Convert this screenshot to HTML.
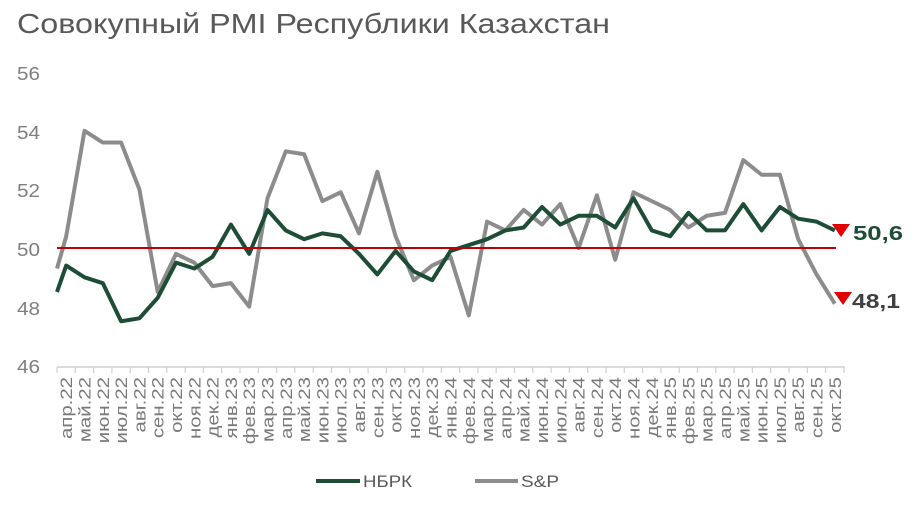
<!DOCTYPE html>
<html><head><meta charset="utf-8"><style>
body{margin:0;background:#fff;}
svg{display:block;font-family:"Liberation Sans","DejaVu Sans",sans-serif;}
</style></head><body>
<svg id="c" width="919" height="512" viewBox="0 0 919 512">
<text x="17" y="33" font-size="28" fill="#595959" textLength="593" lengthAdjust="spacingAndGlyphs">Совокупный PMI Республики Казахстан</text>
<g font-size="18" fill="#7f7f7f" text-anchor="start">
<text x="17" y="80" textLength="23" lengthAdjust="spacingAndGlyphs">56</text><text x="17" y="139" textLength="23" lengthAdjust="spacingAndGlyphs">54</text><text x="17" y="197" textLength="23" lengthAdjust="spacingAndGlyphs">52</text>
<text x="17" y="256" textLength="23" lengthAdjust="spacingAndGlyphs">50</text><text x="17" y="315" textLength="23" lengthAdjust="spacingAndGlyphs">48</text><text x="17" y="373" textLength="23" lengthAdjust="spacingAndGlyphs">46</text>
</g>
<line x1="57" y1="367" x2="845" y2="367" stroke="#d0d0d0" stroke-width="1.5"/>
<g id="ticks" stroke="#d0d0d0" stroke-width="1.2"></g>
<g id="labels" font-size="17" fill="#7a7a7a" text-anchor="end">
<text>апр.22</text><text>май.22</text><text>июн.22</text><text>июл.22</text><text>авг.22</text><text>сен.22</text><text>окт.22</text><text>ноя.22</text><text>дек.22</text><text>янв.23</text><text>фев.23</text><text>мар.23</text><text>апр.23</text><text>май.23</text><text>июн.23</text><text>июл.23</text><text>авг.23</text><text>сен.23</text><text>окт.23</text><text>ноя.23</text><text>дек.23</text><text>янв.24</text><text>фев.24</text><text>мар.24</text><text>апр.24</text><text>май.24</text><text>июн.24</text><text>июл.24</text><text>авг.24</text><text>сен.24</text><text>окт.24</text><text>ноя.24</text><text>дек.24</text><text>янв.25</text><text>фев.25</text><text>мар.25</text><text>апр.25</text><text>май.25</text><text>июн.25</text><text>июл.25</text><text>авг.25</text><text>сен.25</text><text>окт.25</text>
</g>
<polyline id="sp" fill="none" stroke="#8c8c8c" stroke-width="4" stroke-linejoin="round"/>
<polyline id="nb" fill="none" stroke="#1e4d36" stroke-width="4" stroke-linejoin="round"/>
<line x1="57" y1="248" x2="836" y2="248" stroke="#c00000" stroke-width="2"/>
<polygon points="832,224 850,224 841,237" fill="#e00000"/>
<text x="853" y="240" font-size="20" font-weight="bold" fill="#1e4d36" textLength="50" lengthAdjust="spacingAndGlyphs">50,6</text>
<polygon points="834,292 852,292 843,305" fill="#e00000"/>
<text x="852" y="308" font-size="20" font-weight="bold" fill="#404040" textLength="48" lengthAdjust="spacingAndGlyphs">48,1</text>
<line x1="316" y1="481" x2="360" y2="481" stroke="#1e4d36" stroke-width="4"/>
<text x="363" y="487" font-size="17" fill="#595959" textLength="49" lengthAdjust="spacingAndGlyphs">НБРК</text>
<line x1="475" y1="481" x2="518" y2="481" stroke="#8c8c8c" stroke-width="4"/>
<text x="521" y="487" font-size="17" fill="#595959" textLength="38" lengthAdjust="spacingAndGlyphs">S&amp;P</text>
</svg>
<script>
var sp=[50.4,54.0,53.6,53.6,52.0,48.5,49.8,49.5,48.7,48.8,48.0,51.7,53.3,53.2,51.6,51.9,50.5,52.6,50.4,48.9,49.4,49.7,47.7,50.9,50.6,51.3,50.8,51.5,50.0,51.8,49.6,51.9,51.6,51.3,50.7,51.1,51.2,53.0,52.5,52.5,50.3,49.1,48.1];
var nb=[49.4,49.0,48.8,47.5,47.6,48.3,49.5,49.3,49.7,50.8,49.8,51.3,50.6,50.3,50.5,50.4,49.8,49.1,49.9,49.2,48.9,49.9,50.1,50.3,50.6,50.7,51.4,50.8,51.1,51.1,50.7,51.7,50.6,50.4,51.2,50.6,50.6,51.5,50.6,51.4,51.0,50.9,50.6];
function X(i){return 66.2+i*18.3;}function Y(v){return 248-(v-50)*29.3;}
function pts(a,s){var p=[57+","+Y(s)];a.forEach(function(v,i){p.push(X(i)+","+Y(v));});return p.join(" ");}
document.getElementById("sp").setAttribute("points",pts(sp,49.3));
document.getElementById("nb").setAttribute("points",pts(nb,48.5));
var t=document.getElementById("ticks"),ns="http://www.w3.org/2000/svg";
for(var i=0;i<=43;i++){var l=document.createElementNS(ns,"line");var x=57+i*18.3;l.setAttribute("x1",x);l.setAttribute("x2",x);l.setAttribute("y1",367);l.setAttribute("y2",373);t.appendChild(l);}
var L=document.getElementById("labels").children;
for(var i=0;i<L.length;i++){var x=X(i)+6;L[i].setAttribute("transform","translate("+x+",377) rotate(-90) scale(1.2,1)");}
</script>
</body></html>
